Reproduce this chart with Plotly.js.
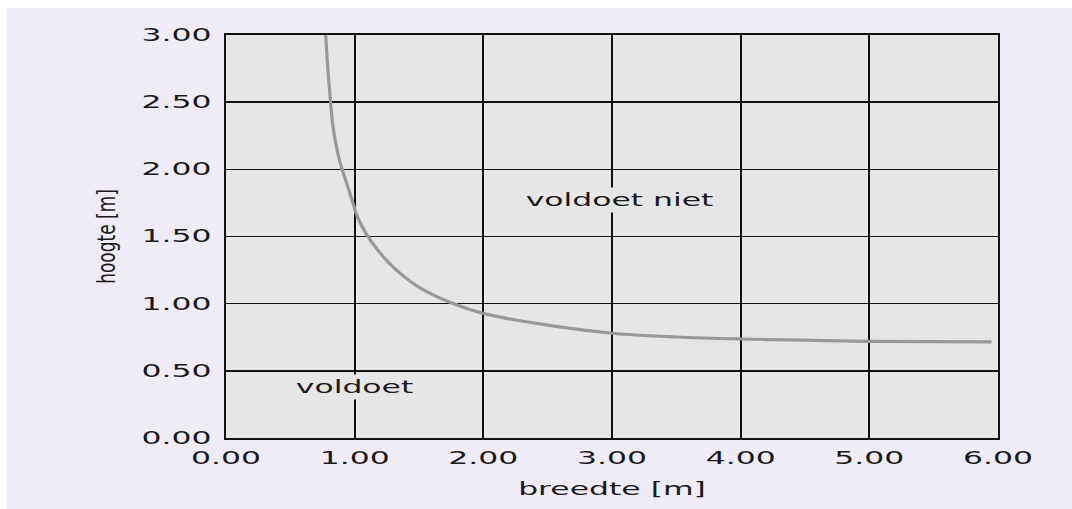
<!DOCTYPE html>
<html>
<head>
<meta charset="utf-8">
<script src="https://cdn.plot.ly/plotly-3.0.1.min.js"></script>
<style>
  html, body { margin: 0; padding: 0; background: #ffffff; }
  #chart { width: 1072px; height: 509px; }
</style>
</head>
<body>
<div id="chart"></div>
<script>
// ---- data ----
const breedte = [0.775, 0.79, 0.81, 0.83, 0.86, 0.89, 0.94, 0.98, 1.02, 1.09, 1.17, 1.27, 1.38, 1.48, 1.61, 1.74, 1.87, 2.03, 2.50, 3.00, 3.50, 4.00, 4.50, 5.00, 5.95];
const hoogte  = [3.00, 2.77, 2.53, 2.33, 2.16, 2.04, 1.89, 1.77, 1.65, 1.52, 1.41, 1.30, 1.205, 1.135, 1.065, 1.01, 0.965, 0.92, 0.84, 0.78, 0.752, 0.737, 0.728, 0.72, 0.715];
const xTicks = [0, 1, 2, 3, 4, 5, 6];
const xTickLabels = ["0.00", "1.00", "2.00", "3.00", "4.00", "5.00", "6.00"];
const yTicks = [0, 0.5, 1, 1.5, 2, 2.5, 3];
const yTickLabels = ["0.00", "0.50", "1.00", "1.50", "2.00", "2.50", "3.00"];
const regionLabels = ["voldoet niet", "voldoet"];
const regionX = [3.06, 1.0];
const regionY = [1.77, 0.38];
const xTitle = "breedte [m]";
const yTitle = "hoogte [m]";

const FONT = "DejaVu Sans, Verdana, sans-serif";
const L = 226, R = 74, T = 35, B = 71, W = 1072, H = 509;
const pw = W - L - R, ph = H - T - B;

const trace = {
  x: breedte, y: hoogte, type: "scatter", mode: "lines",
  line: { color: "#999999", width: 3.2, shape: "spline", smoothing: 1 },
  hoverinfo: "skip", showlegend: false
};

const layout = {
  width: W, height: H,
  margin: { l: L, r: R, t: T, b: B, pad: 0 },
  paper_bgcolor: "#efecf7",
  plot_bgcolor: "#e6e6e6",
  font: { family: FONT, size: 17, color: "#1a1a1a" },
  showlegend: false,
  xaxis: {
    range: [0, 6], tickmode: "array", tickvals: xTicks, ticktext: xTickLabels,
    showgrid: true, gridcolor: "#111111", gridwidth: 2,
    showline: true, linecolor: "#111111", linewidth: 2, mirror: true,
    zeroline: false, ticks: "", ticklabelstandoff: 4,
    tickfont: { family: FONT, size: 17, color: "#1a1a1a" },
    title: { text: xTitle, font: { family: FONT, size: 17, color: "#1a1a1a" }, standoff: 16 },
    fixedrange: true
  },
  yaxis: {
    range: [0, 3], tickmode: "array", tickvals: yTicks, ticktext: yTickLabels,
    showgrid: true, gridcolor: "#111111", gridwidth: 1.5,
    showline: true, linecolor: "#111111", linewidth: 2, mirror: true,
    zeroline: false, ticks: "", ticklabelstandoff: 9,
    tickfont: { family: FONT, size: 17, color: "#1a1a1a" },
    title: { text: yTitle, font: { family: FONT, size: 17, color: "#1a1a1a" }, standoff: 56 },
    fixedrange: true
  },
  annotations: regionLabels.map((t, i) => ({
    x: regionX[i], y: regionY[i], xref: "x", yref: "y",
    text: t, showarrow: false,
    font: { family: FONT, size: 17, color: "#1a1a1a" },
    bgcolor: "#e6e6e6", borderpad: 2
  })),
  shapes: [
    { type: "rect", xref: "paper", yref: "paper", layer: "above",
      x0: -L / pw, x1: (7 - L) / pw, y0: -B / ph - 0.01, y1: 1 + T / ph + 0.01,
      fillcolor: "#ffffff", line: { width: 0 } },
    { type: "rect", xref: "paper", yref: "paper", layer: "above",
      x0: -L / pw, x1: 1 + R / pw, y0: 1 + (T - 8) / ph, y1: 1 + T / ph + 0.01,
      fillcolor: "#ffffff", line: { width: 0 } }
  ]
};

// horizontal stretch of the wide geometric lettering seen in the reference
const S = 1.85;
function stretch(el, anchor) {
  const bb = el.getBBox();
  let cx = bb.x + bb.width / 2;
  if (anchor === "end") cx = bb.x + bb.width;
  const t = el.getAttribute("transform") || "";
  el.setAttribute("transform", t + " translate(" + cx + ",0) scale(" + S + ",1) translate(" + (-cx) + ",0)");
}
// rotated title: screen-horizontal stretch is the local vertical direction
function stretchRotated(el, s) {
  const bb = el.getBBox();
  const cy = bb.y + bb.height / 2;
  const t = el.getAttribute("transform") || "";
  el.setAttribute("transform", t + " translate(0," + cy + ") scale(1," + s + ") translate(0," + (-cy) + ")");
}

Plotly.newPlot("chart", [trace], layout, { staticPlot: true, displayModeBar: false }).then(gd => {
  gd.querySelectorAll(".xtick text").forEach(el => stretch(el, "middle"));
  gd.querySelectorAll(".ytick text").forEach(el => stretch(el, "end"));
  gd.querySelectorAll(".g-xtitle text").forEach(el => stretch(el, "middle"));
  gd.querySelectorAll(".g-ytitle text").forEach(el => stretchRotated(el, 1.45));
  gd.querySelectorAll(".annotation-text-g").forEach(el => stretch(el, "middle"));
});
</script>
</body>
</html>
